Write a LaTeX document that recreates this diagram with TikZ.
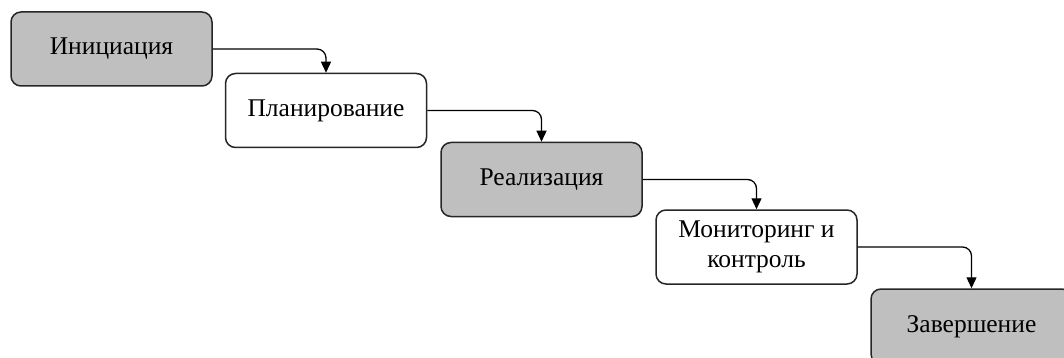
\documentclass[tikz,border=0pt]{standalone}
\usepackage{fontspec}
\setmainfont{Liberation Serif}
\usetikzlibrary{arrows.meta}
\definecolor{boxgray}{HTML}{BFBFBF}
\definecolor{edge}{HTML}{262626}
\tikzset{
  stage/.style={draw=edge, line width=1.5pt, rounded corners=10pt, minimum width=201pt, minimum height=74pt, inner sep=0pt, align=center, font=\fontsize{25.5}{30}\selectfont, text=black},
  grayst/.style={stage, fill=boxgray},
  whitest/.style={stage, fill=white},
  link/.style={draw=black, line width=1.3pt, rounded corners=9pt, -{Triangle[length=11pt,width=10pt]}}
}
\begin{document}
\begin{tikzpicture}[x=1pt,y=-1pt]
\useasboundingbox (0,0) rectangle (1064,358);
\clip (0,0) rectangle (1064,358);
\node[grayst]  (s1) at (111.5,49)  {Инициация};
\node[whitest] (s2) at (326,110.5) {Планирование};
\node[grayst]  (s3) at (541.5,179.5) {Реализация};
\node[whitest] (s4) at (756.5,247) {Мониторинг и\\контроль};
\node[grayst, minimum height=75pt]  (s5) at (971.5,326.5) {Завершение};
\draw[link] (s1.east) -| (s2.north);
\draw[link] (s2.east) -| (s3.north);
\draw[link] (s3.east) -| (s4.north);
\draw[link] (s4.east) -| (s5.north);
\end{tikzpicture}
\end{document}
